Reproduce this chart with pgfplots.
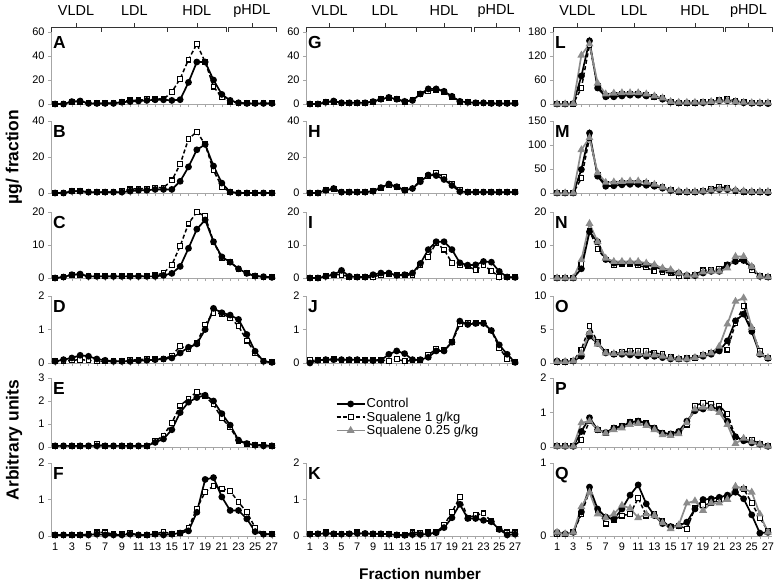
\documentclass[border=0pt]{standalone}
\usepackage{fontspec}
\setmainfont{Liberation Sans}
\usepackage{pgfplots}
\pgfplotsset{compat=1.18}

\pgfplotsset{
  /pgfplots/table/fr/.style={header=false, x expr=\coordindex+1, y index=0, row sep=\\},
  panel/.style={scale only axis, anchor=south west,
    xmin=0.5, xmax=27.5, ymin=0,
    axis x line*=bottom, axis y line*=left,
    axis line style={black!35, line width=0.7bp},
    xtick={1,...,27}, xticklabels={},
    tick align=outside, major tick length=3bp,
    tick style={black!35, line width=0.6bp},
    ticklabel style={font=\fontsize{11}{12}\selectfont},
    /pgf/number format/assume math mode=true,
    clip=false},
  bottomrow/.style={xticklabels={1,,3,,5,,7,,9,,11,,13,,15,,17,,19,,21,,23,,25,,27}},
  ctrl/.style={black, line width=1.7bp, mark=*, mark size=2.5bp, mark options={solid}},
  sqa/.style={black, line width=1.5bp, dash pattern=on 4bp off 2.5bp, mark=square*,
    mark size=2.4bp, mark options={solid, fill=white, line width=1.1bp}},
  sqb/.style={black!45, line width=1.7bp, mark=triangle*, mark size=2.9bp,
    mark options={solid, fill=black!45}},
}

% panel letter
\newcommand{\plabel}[1]{\node[anchor=north west, inner sep=0pt,
  font=\bfseries\fontsize{17.5}{17.5}\selectfont] at ([xshift=2bp,yshift=-4bp]rel axis cs:0,1) {#1};}

% one centre tick and its label
\newcommand{\lipotick}[2]{%
  \draw[black!80, line width=0.6bp] ([yshift=5bp]rel axis cs:#1,1) -- ([yshift=9bp]rel axis cs:#1,1);
  \node[font=\fontsize{14.5}{15}\selectfont] at ([yshift=21bp]rel axis cs:#1,1) {#2};}

% lipoprotein brackets above the top row
\newcommand{\lipo}{%
  \draw[black!80, line width=0.6bp] (rel axis cs:0,1) -- ([yshift=5bp]rel axis cs:0,1)
    -- ([yshift=5bp]rel axis cs:0.7778,1) -- (rel axis cs:0.7778,1);
  \draw[black!80, line width=0.6bp] ([yshift=5bp]rel axis cs:0.2222,1) -- (rel axis cs:0.2222,1);
  \draw[black!80, line width=0.6bp] ([yshift=5bp]rel axis cs:0.5185,1) -- (rel axis cs:0.5185,1);
  \draw[black!80, line width=0.6bp] (rel axis cs:0.7889,1) -- ([yshift=5bp]rel axis cs:0.7889,1)
    -- ([yshift=5bp]rel axis cs:1,1) -- (rel axis cs:1,1);
  \lipotick{0.1111}{VLDL}
  \lipotick{0.3704}{LDL}
  \lipotick{0.6481}{HDL}
  \lipotick{0.8926}{pHDL}%
}

\begin{document}
\begin{tikzpicture}
\useasboundingbox (0,0) rectangle (778bp,-584bp);

% ---------------- column 1 ----------------
\begin{axis}[panel, at={(51bp,-104bp)}, width=225bp, height=72bp, ymax=60, ytick={0,20,40,60}]
\addplot[sqa] table[fr] {0\\0\\2\\2\\1\\0.5\\0.5\\1\\2\\3\\3\\4\\4.5\\4\\10\\21\\37\\50\\35\\14.5\\5.5\\2\\1\\0.5\\0.5\\0.5\\0.5\\};
\addplot[ctrl] table[fr] {0\\0\\2\\2.5\\0.5\\0.5\\0.5\\0.5\\1.5\\2\\2.5\\3\\3.5\\3.5\\3\\3.6\\18\\35\\35\\20\\8\\3\\1\\0.5\\0.5\\0.5\\0.5\\};
\plabel{A}
\lipo
\end{axis}

\begin{axis}[panel, at={(51bp,-193bp)}, width=225bp, height=72bp, ymax=40, ytick={0,20,40}]
\addplot[sqa] table[fr] {0\\0\\1\\1\\0.5\\0.5\\0.5\\0.5\\1\\2\\2.5\\2.5\\3\\3\\7\\16\\30\\34\\27\\12.5\\3.5\\0.5\\0\\0\\0\\0\\0\\};
\addplot[ctrl] table[fr] {0\\0\\1\\1\\0.5\\0.5\\0.5\\0.5\\0.5\\1\\1.5\\1.5\\2\\2\\2\\6.5\\14.5\\24\\27\\15\\5.5\\0.5\\0\\0\\0\\0\\0\\};
\plabel{B}
\end{axis}

\begin{axis}[panel, at={(51bp,-278bp)}, width=225bp, height=66bp, ymax=20, ytick={0,10,20}]
\addplot[sqa] table[fr] {0\\0.3\\1\\1\\0.5\\0.5\\0.5\\0.5\\0.5\\0.5\\0.6\\0.6\\0.8\\1.5\\4\\9.7\\16.5\\20\\18.7\\11\\6\\4.8\\2.8\\1.4\\0.6\\0.4\\0.2\\};
\addplot[ctrl] table[fr] {0\\0.3\\1\\1.2\\0.5\\0.5\\0.5\\0.5\\0.5\\0.5\\0.5\\0.5\\0.5\\0.8\\1.4\\3.5\\9\\14.8\\17.6\\11\\6.4\\4.8\\2.8\\1.4\\0.6\\0.4\\0.2\\};
\plabel{C}
\end{axis}

\begin{axis}[panel, at={(51bp,-363bp)}, width=225bp, height=67bp, ymax=2, ytick={0,1,2}]
\addplot[sqa] table[fr] {0.05\\0.05\\0.08\\0.1\\0.08\\0.05\\0.05\\0.05\\0.05\\0.08\\0.1\\0.12\\0.12\\0.12\\0.22\\0.5\\0.42\\0.6\\1.15\\1.5\\1.47\\1.35\\1.1\\0.67\\0.3\\0.05\\0.02\\};
\addplot[ctrl] table[fr] {0.05\\0.1\\0.15\\0.23\\0.2\\0.12\\0.08\\0.05\\0.05\\0.05\\0.07\\0.08\\0.1\\0.12\\0.15\\0.3\\0.47\\0.57\\1.0\\1.63\\1.5\\1.43\\1.3\\0.85\\0.35\\0.05\\0.02\\};
\plabel{D}
\end{axis}

\begin{axis}[panel, at={(51bp,-447bp)}, width=225bp, height=69bp, ymax=3, ytick={0,1,2,3}]
\addplot[sqa] table[fr] {0.05\\0.05\\0.05\\0.05\\0.05\\0.12\\0.05\\0.05\\0.05\\0.05\\0.05\\0.05\\0.25\\0.5\\1.05\\1.8\\2.1\\2.4\\2.2\\1.85\\1.25\\0.85\\0.25\\0.15\\0.1\\0.08\\0.05\\};
\addplot[ctrl] table[fr] {0.05\\0.05\\0.05\\0.05\\0.05\\0.05\\0.05\\0.05\\0.05\\0.05\\0.05\\0.05\\0.2\\0.35\\0.75\\1.5\\1.95\\2.15\\2.25\\2.0\\1.45\\0.95\\0.3\\0.15\\0.08\\0.05\\0.05\\};
\plabel{E}
\end{axis}

\begin{axis}[panel, bottomrow, at={(51bp,-536bp)}, width=225bp, height=73bp, ymax=2, ytick={0,1,2}]
\addplot[sqa] table[fr] {0.03\\0.03\\0.03\\0.03\\0.05\\0.1\\0.1\\0.05\\0.05\\0.08\\0.03\\0.03\\0.05\\0.12\\0.05\\0.08\\0.23\\0.75\\1.21\\1.37\\1.3\\1.23\\0.93\\0.65\\0.23\\0.05\\0.05\\};
\addplot[ctrl] table[fr] {0.03\\0.03\\0.03\\0.03\\0.03\\0.05\\0.03\\0.03\\0.03\\0.05\\0.03\\0.03\\0.05\\0.03\\0.05\\0.08\\0.14\\0.65\\1.55\\1.6\\1.07\\0.7\\0.7\\0.47\\0.12\\0.05\\0.05\\};
\plabel{F}
\end{axis}

% ---------------- column 2 ----------------
\begin{axis}[panel, at={(306bp,-104bp)}, width=213bp, height=72bp, ymax=60, ytick={0,20,40,60}]
\addplot[sqa] table[fr] {0\\0\\1.5\\2\\1\\1\\1\\1\\2\\4\\5\\4\\2\\3\\8\\11\\12\\10\\6\\2\\1.4\\1\\1\\0.5\\0.5\\0.5\\0.5\\};
\addplot[ctrl] table[fr] {0\\0\\1.5\\2.5\\1\\1\\1\\1\\2\\4\\5.5\\4\\2.2\\3\\8.4\\12.6\\12.6\\10.6\\6.4\\2.2\\1.4\\1\\1\\0.5\\0.5\\0.5\\0.5\\};
\plabel{G}
\lipo
\end{axis}

\begin{axis}[panel, at={(306bp,-193bp)}, width=213bp, height=72bp, ymax=40, ytick={0,20,40}]
\addplot[sqa] table[fr] {0\\0\\1.5\\2\\0.5\\0.5\\0.5\\0.5\\1\\3\\4.5\\3.5\\1.5\\2.5\\7\\9.5\\11\\9\\5\\1.5\\0.5\\0.5\\0.5\\0.5\\0.5\\0.5\\0.5\\};
\addplot[ctrl] table[fr] {0\\0\\1.5\\2.5\\0.5\\0.5\\0.5\\0.5\\1\\3\\5\\3.5\\1.5\\2.5\\6.3\\10\\9.7\\7.5\\4.2\\0.8\\0.5\\0.5\\0.5\\0.5\\0.5\\0.5\\0.5\\};
\plabel{H}
\end{axis}

\begin{axis}[panel, at={(306bp,-278bp)}, width=213bp, height=66bp, ymax=20, ytick={0,10,20}]
\addplot[sqa] table[fr] {0\\0\\0.5\\1\\1\\0.3\\0.3\\0.3\\0.3\\1\\1.3\\0.8\\0.8\\1\\4\\6.3\\10.7\\8.6\\4.6\\4\\3.5\\2.5\\3.8\\2.2\\0.3\\0.2\\0.2\\};
\addplot[ctrl] table[fr] {0\\0\\0.5\\1\\2.3\\0.5\\0.3\\0.3\\1\\1.5\\1.5\\0.8\\1\\1.5\\4.4\\8.6\\11\\11\\8.6\\4.6\\3.9\\4\\5\\4.8\\2\\0.3\\0.2\\};
\plabel{I}
\end{axis}

\begin{axis}[panel, at={(306bp,-363bp)}, width=213bp, height=67bp, ymax=2, ytick={0,1,2}]
\addplot[sqa] table[fr] {0.08\\0.08\\0.1\\0.12\\0.1\\0.1\\0.1\\0.08\\0.08\\0.1\\0.05\\0.12\\0.05\\0.08\\0.1\\0.25\\0.41\\0.38\\0.62\\1.15\\1.2\\1.2\\1.2\\0.97\\0.45\\0.12\\0.02\\};
\addplot[ctrl] table[fr] {0\\0.08\\0.1\\0.1\\0.1\\0.1\\0.1\\0.08\\0.07\\0.08\\0.26\\0.36\\0.28\\0.1\\0.1\\0.17\\0.36\\0.36\\0.62\\1.25\\1.15\\1.18\\1.18\\0.97\\0.54\\0.26\\0.02\\};
\plabel{J}
\end{axis}

\begin{axis}[panel, bottomrow, at={(306bp,-536bp)}, width=213bp, height=73bp, ymax=2, ytick={0,1,2},
  legend style={at={(axis description cs:0.125,1.93)}, anchor=north west, draw=none, fill=none,
    font=\fontsize{13}{14}\selectfont, row sep=0bp, nodes={inner sep=1.2bp}},
  legend cell align=left,
  legend image code/.code={\draw[mark repeat=2, mark phase=2, #1] plot coordinates {(0bp,0bp) (14bp,0bp) (28bp,0bp)};}]
\addlegendimage{ctrl}
\addlegendentry{Control}
\addlegendimage{sqa}
\addlegendentry{Squalene 1 g/kg}
\addlegendimage{sqb}
\addlegendentry{Squalene 0.25 g/kg}
\addplot[sqa, forget plot] table[fr] {0.05\\0.07\\0.1\\0.06\\0.05\\0.07\\0.1\\0.07\\0.06\\0.06\\0.05\\0.03\\0.02\\0.1\\0.08\\0.1\\0.1\\0.3\\0.65\\1.07\\0.5\\0.57\\0.62\\0.4\\0.18\\0.1\\0.1\\};
\addplot[ctrl, forget plot] table[fr] {0.05\\0.06\\0.07\\0.06\\0.05\\0.06\\0.07\\0.07\\0.06\\0.06\\0.05\\0.03\\0.02\\0.04\\0.04\\0.06\\0.09\\0.23\\0.5\\0.87\\0.48\\0.48\\0.43\\0.39\\0.18\\0.03\\0.05\\};
\plabel{K}
\end{axis}

% ---------------- column 3 ----------------
\begin{axis}[panel, at={(553bp,-104bp)}, width=219bp, height=72bp, ymax=180, ytick={0,60,120,180}]
\addplot[sqa] table[fr] {0\\0\\1\\40\\148\\45\\20\\22\\24\\24\\24\\22\\18\\15\\6\\3\\3\\3\\4\\6\\10\\13\\8\\4\\2\\2\\2\\};
\addplot[ctrl] table[fr] {0\\0\\1\\70\\158\\40\\18\\18\\20\\22\\22\\20\\18\\12\\5\\3\\3\\3\\3\\5\\8\\8\\6\\3\\2\\2\\1\\};
\addplot[sqb] table[fr] {0\\0\\1\\122\\150\\52\\25\\27\\28\\28\\28\\25\\20\\15\\6\\4\\4\\4\\4\\6\\8\\8\\6\\4\\3\\3\\3\\};
\plabel{L}
\lipo
\end{axis}

\begin{axis}[panel, at={(553bp,-193bp)}, width=219bp, height=72bp, ymax=150, ytick={0,50,100,150}]
\addplot[sqa] table[fr] {0\\0\\0\\31\\115\\38\\18\\18\\20\\20\\21\\20\\16\\12\\6\\3\\3\\3\\5\\9\\13\\10\\5\\3\\3\\3\\2\\};
\addplot[ctrl] table[fr] {0\\0\\0\\49\\125\\35\\14\\15\\17\\18\\18\\16\\14\\10\\5\\3\\2\\2\\3\\5\\7\\7\\5\\3\\2\\2\\1\\};
\addplot[sqb] table[fr] {0\\0\\0\\90\\115\\42\\22\\23\\24\\25\\25\\22\\18\\12\\6\\4\\3\\3\\4\\6\\8\\8\\6\\4\\3\\3\\3\\};
\plabel{M}
\end{axis}

\begin{axis}[panel, at={(553bp,-278bp)}, width=219bp, height=66bp, ymax=20, ytick={0,10,20}]
\addplot[sqa] table[fr] {0\\0\\0\\4.3\\14.3\\8.8\\5.6\\4\\4.2\\4.2\\3.8\\3.2\\2\\1.8\\1.5\\0.5\\0.6\\1\\2.3\\2.5\\2.8\\4\\5.6\\5.5\\2.3\\0.6\\0.3\\};
\addplot[ctrl] table[fr] {0\\0\\0\\2.8\\14\\11\\5.6\\4.5\\4.5\\4.5\\4.5\\4\\3.5\\2.5\\2\\1.5\\0.8\\0.7\\1.5\\2\\2\\4\\5\\5.3\\3.3\\0.5\\0.3\\};
\addplot[sqb] table[fr] {0\\0\\0\\5.5\\16.5\\11\\6\\5\\5\\5\\5\\4.5\\4\\3\\2.5\\1.5\\0.8\\0.8\\1.8\\2\\2\\3\\6.5\\6.5\\3.5\\0.5\\0.3\\};
\plabel{N}
\end{axis}

\begin{axis}[panel, at={(553bp,-363bp)}, width=219bp, height=67bp, ymax=10, ytick={0,5,10}]
\addplot[sqa] table[fr] {0.2\\0.2\\0.3\\2\\5.5\\3.1\\1.6\\1.4\\1.6\\1.8\\1.8\\1.8\\1.5\\1.3\\0.9\\0.6\\0.7\\0.8\\1.2\\1.5\\2\\2\\5.9\\8.5\\4.9\\1.8\\0.8\\};
\addplot[ctrl] table[fr] {0.3\\0.2\\0.3\\1\\4\\2.9\\1.5\\1.3\\1.3\\1.2\\1.1\\1\\1\\0.8\\0.6\\0.6\\0.6\\0.8\\1\\1.3\\1.8\\3.3\\6.3\\7.3\\4.7\\1.3\\0.7\\};
\addplot[sqb] table[fr] {0.2\\0.2\\0.3\\1.5\\4.5\\2.8\\1.5\\1.4\\1.5\\1.5\\1.4\\1.3\\1.2\\1\\0.7\\0.6\\0.6\\0.8\\1.2\\1.5\\2.5\\5.8\\9.2\\9.7\\5.3\\1.4\\0.8\\};
\plabel{O}
\end{axis}

\begin{axis}[panel, at={(553bp,-447bp)}, width=219bp, height=69bp, ymax=2, ytick={0,1,2}]
\addplot[sqa] table[fr] {0.02\\0.02\\0.02\\0.2\\0.75\\0.5\\0.4\\0.55\\0.6\\0.72\\0.75\\0.7\\0.55\\0.42\\0.38\\0.4\\0.65\\1.2\\1.28\\1.25\\1.2\\0.95\\0.3\\0.2\\0.2\\0.1\\0.02\\};
\addplot[ctrl] table[fr] {0.03\\0.02\\0.02\\0.45\\0.85\\0.5\\0.42\\0.55\\0.6\\0.72\\0.75\\0.68\\0.55\\0.4\\0.38\\0.45\\0.75\\1.05\\1.1\\1.15\\1.1\\0.75\\0.3\\0.18\\0.12\\0.08\\0.02\\};
\addplot[sqb] table[fr] {0.02\\0.02\\0.02\\0.7\\0.75\\0.5\\0.4\\0.5\\0.55\\0.65\\0.68\\0.62\\0.5\\0.35\\0.33\\0.38\\0.7\\1.1\\1.15\\1.12\\1\\0.65\\0.1\\0.25\\0.15\\0.08\\0.02\\};
\plabel{P}
\end{axis}

\begin{axis}[panel, bottomrow, at={(553bp,-536bp)}, width=219bp, height=73bp, ymax=1, ytick={0,1}]
\addplot[sqa] table[fr] {0.02\\0.02\\0.05\\0.3\\0.62\\0.35\\0.17\\0.22\\0.28\\0.3\\0.52\\0.28\\0.3\\0.2\\0.13\\0.14\\0.1\\0.38\\0.42\\0.45\\0.5\\0.5\\0.62\\0.65\\0.45\\0.25\\0.07\\};
\addplot[ctrl] table[fr] {0.05\\0.03\\0.05\\0.33\\0.67\\0.37\\0.26\\0.23\\0.37\\0.56\\0.7\\0.44\\0.28\\0.17\\0.13\\0.14\\0.19\\0.37\\0.5\\0.51\\0.53\\0.56\\0.6\\0.51\\0.29\\0.04\\0.05\\};
\addplot[sqb] table[fr] {0.05\\0.03\\0.05\\0.4\\0.6\\0.3\\0.25\\0.3\\0.42\\0.38\\0.25\\0.3\\0.28\\0.18\\0.1\\0.15\\0.45\\0.48\\0.35\\0.45\\0.45\\0.5\\0.68\\0.65\\0.6\\0.3\\0.05\\};
\plabel{Q}
\end{axis}

% shared axis titles
\node[rotate=90, font=\bfseries\fontsize{17.5}{17.5}\selectfont] at (14bp,-157bp) {µg/ fraction};
\node[rotate=90, font=\bfseries\fontsize{17.5}{17.5}\selectfont] at (14bp,-440bp) {Arbitrary units};
\node[font=\bfseries\fontsize{15.5}{15.5}\selectfont] at (420bp,-574bp) {Fraction number};
\end{tikzpicture}
\end{document}
